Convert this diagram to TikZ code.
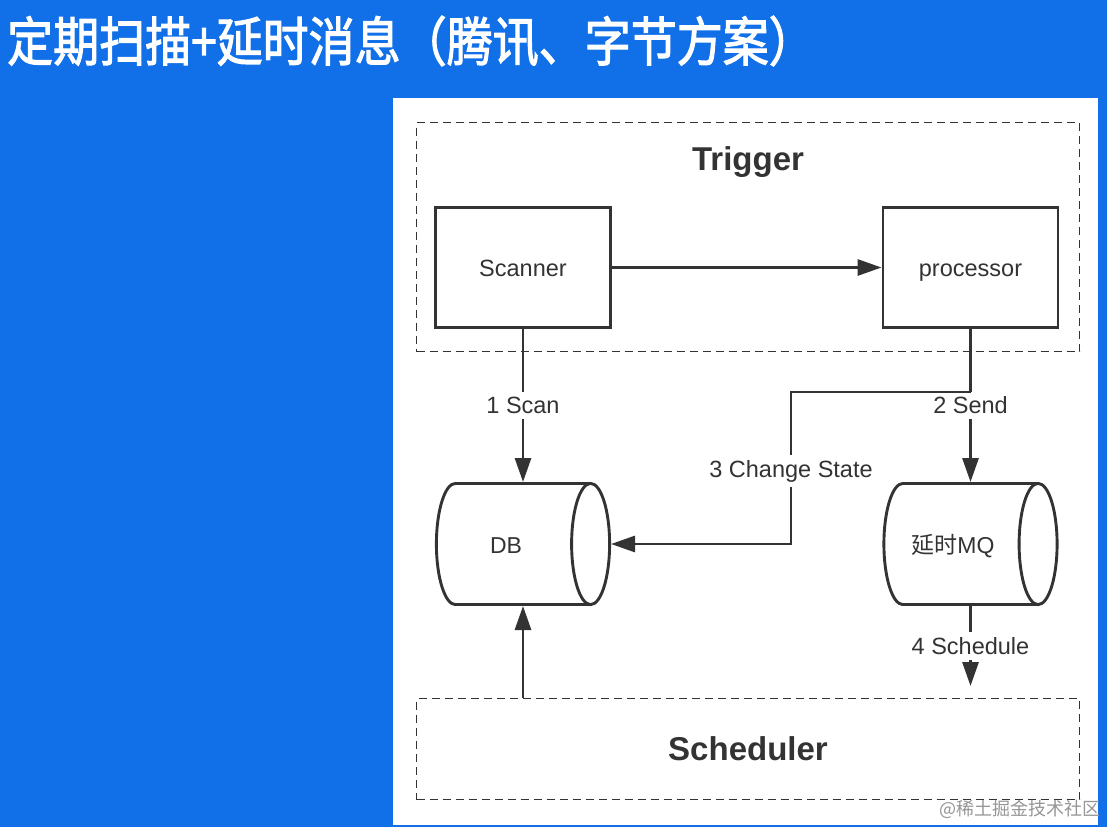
\documentclass[tikz,border=0pt]{standalone}
\usepackage{fontspec}
\setmainfont{Liberation Sans}
\newfontfamily\cjk{Noto Sans CJK SC}
\newfontfamily\cjktitle{Noto Sans CJK SC}[FakeBold=2.2]
\usetikzlibrary{arrows.meta}
\definecolor{bgblue}{RGB}{17,112,232}
\definecolor{ink}{RGB}{51,51,51}
\definecolor{credit}{RGB}{150,150,150}
\newcommand\drawcyl[2]{%
  \begin{scope}
    \clip ({#1-95},{#2-70}) rectangle ({#1-67.6},{#2+70});
    \draw[cyl] ({#1-67.6},{#2}) ellipse[x radius=19,y radius=60.6];
  \end{scope}
  \draw[cyl] ({#1-67.6},{#2-60.6}) -- ({#1+67.6},{#2-60.6});
  \draw[cyl] ({#1-67.6},{#2+60.6}) -- ({#1+67.6},{#2+60.6});
  \draw[cyl] ({#1+67.6},{#2}) ellipse[x radius=19,y radius=60.6];
}
\begin{document}
\begin{tikzpicture}[x=1pt,y=-1pt,
  conn/.style={draw=ink,line width=2.9pt},
  arr/.style={conn,-{Triangle[length=24pt,width=16pt]}},
  cyl/.style={draw=ink,line width=2.9pt},
  box/.style={draw=ink,line width=2.9pt,minimum width=175pt,minimum height=120pt,inner sep=0pt,text=ink,font=\fontsize{23.5}{27}\selectfont,text height=17pt,text depth=0pt},
  store/.style={minimum width=176pt,minimum height=124pt,inner sep=0pt,outer sep=0pt},
  group/.style={draw=ink,line width=1.8pt,dash pattern=on 8pt off 5pt,inner sep=0pt,text=ink,font=\bfseries\fontsize{33}{38}\selectfont},
  lbl/.style={fill=white,text=ink,font=\fontsize{23.5}{27}\selectfont,inner sep=5pt},
  txt/.style={text=ink,font=\fontsize{23}{26}\selectfont,inner sep=0pt},
]
\useasboundingbox (0,0) rectangle (1107,827);
\fill[bgblue] (0,0) rectangle (1107,827);
\fill[white] (393,98) rectangle (1098,825);

\begin{scope}[shift={(7,41)},yscale=1.15,transform shape]
\node[anchor=west,text=white,inner sep=0pt,font=\cjktitle\fontsize{46}{50}\selectfont] (title) at (0,0) {定期扫描+延时消息（腾讯、字节方案）};
\end{scope}

% groups
\node[group,minimum width=663pt,minimum height=229pt] (trigger) at (748,237) {};
\node[text=ink,font=\bfseries\fontsize{33}{38}\selectfont,inner sep=0pt] (triggerlbl) at (748,162) {Trigger};
\node[group,minimum width=663pt,minimum height=101pt] (scheduler) at (748,749) {Scheduler};

% boxes
\node[box] (scanner) at (523,267.5) {Scanner};
\node[box] (processor) at (970.5,267.5) {processor};

% stores
\node[store] (db) at (523,544) {};
\drawcyl{523}{544}
\node[txt] (dbtext) at (506,546) {DB};
\node[store] (mq) at (970.5,544) {};
\drawcyl{970.5}{544}
\node[txt] (mqtext) at (953,546) {\cjk 延时\fontspec{Liberation Sans}MQ};

% connectors
\draw[arr] (scanner) -- (processor);
\draw[arr] (scanner.south) -- node[lbl]{1 Scan} (db.north);
\draw[arr] (processor.south) -- node[lbl]{2 Send} (mq.north);
\coordinate (br) at (970.5,392);
\draw[arr] (br) -- (791,392) |- node[lbl,pos=0.26]{3 Change State} (db.east);
\coordinate (schin) at (970.5,686);
\draw[arr] (mq.south) -- node[lbl]{4 Schedule} (schin);
\draw[arr] (scheduler.north -| db.south) -- (db.south);

\node[anchor=east,text=credit,inner sep=0pt,font=\cjk\fontsize{18}{22}\selectfont] (creditlbl) at (1101,809) {@稀土掘金技术社区};
\end{tikzpicture}
\end{document}
